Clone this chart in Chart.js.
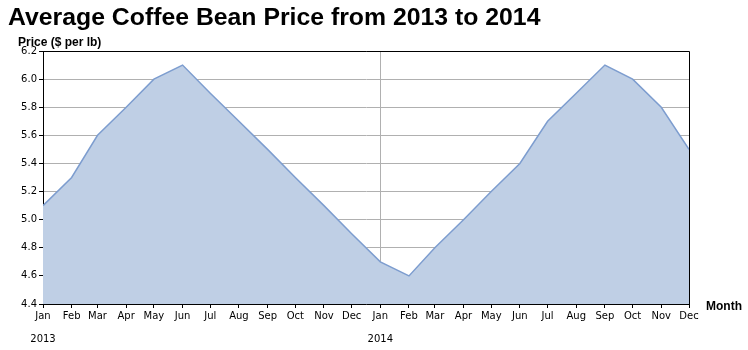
<!DOCTYPE html>
<html>
<head>
<meta charset="utf-8">
<script src="https://cdn.jsdelivr.net/npm/chart.js@4/dist/chart.umd.min.js"></script>
<style>
  html, body { margin: 0; padding: 0; background: #fff; }
  #wrap { width: 748px; height: 350px; position: relative; }
</style>
</head>
<body>
<div id="wrap"><canvas id="c" width="748" height="350"></canvas></div>
<script>
// ---- data ----
const dates = [
  '2013-01-01','2013-02-01','2013-03-01','2013-04-01','2013-05-01','2013-06-01',
  '2013-07-01','2013-08-01','2013-09-01','2013-10-01','2013-11-01','2013-12-01',
  '2014-01-01','2014-02-01','2014-03-01','2014-04-01','2014-05-01','2014-06-01',
  '2014-07-01','2014-08-01','2014-09-01','2014-10-01','2014-11-01','2014-12-01'
];
const prices = [
  5.1, 5.3, 5.6, 5.8, 6.0, 6.1, 5.9, 5.7, 5.5, 5.3, 5.1, 4.9,
  4.7, 4.6, 4.8, 5.0, 5.2, 5.4, 5.7, 5.9, 6.1, 6.0, 5.8, 5.5
];
const monthLabels = ['Jan','Feb','Mar','Apr','May','Jun','Jul','Aug','Sep','Oct','Nov','Dec'];
const yearLabels = ['2013', '2014'];
const yTicks = [4.4, 4.6, 4.8, 5.0, 5.2, 5.4, 5.6, 5.8, 6.0, 6.2];
const titleText = 'Average Coffee Bean Price from 2013 to 2014';
const yTitle = 'Price ($ per lb)';
const xTitle = 'Month';

// ---- helpers ----
const DAY = 86400000;
const base = Date.UTC(2013, 0, 1);
function dayNum(s) {
  const p = s.split('-').map(Number);
  return (Date.UTC(p[0], p[1] - 1, p[2]) - base) / DAY;
}
const xs = dates.map(dayNum);
const points = xs.map((x, i) => ({ x: x, y: prices[i] }));
const yearStarts = xs.filter((x, i) => i % 12 === 0);

const PLOT = { left: 43, top: 51, right: 689, bottom: 304 };

const decor = {
  id: 'decor',
  afterDraw(chart) {
    const ctx = chart.ctx;
    const a = chart.chartArea;
    ctx.save();
    // frame top and right
    ctx.strokeStyle = '#000';
    ctx.lineWidth = 1;
    ctx.beginPath();
    ctx.moveTo(a.left, a.top + 0.5);
    ctx.lineTo(a.right + 0.5, a.top + 0.5);
    ctx.lineTo(a.right + 0.5, a.bottom);
    ctx.stroke();
    // title
    ctx.fillStyle = '#000';
    ctx.textBaseline = 'alphabetic';
    ctx.textAlign = 'left';
    ctx.font = 'bold 24.8px "Liberation Sans", Arial, sans-serif';
    ctx.fillText(titleText, 8, 25);
    // y axis title
    ctx.font = 'bold 12px "Liberation Sans", Arial, sans-serif';
    ctx.fillText(yTitle, 18, 46);
    // x axis title
    ctx.fillText(xTitle, 706, 310);
    // year labels
    ctx.font = '10px "DejaVu Sans", sans-serif';
    ctx.textAlign = 'center';
    ctx.textBaseline = 'middle';
    const xs = chart.scales.x;
    yearStarts.forEach((v, i) => {
      ctx.fillText(yearLabels[i], xs.getPixelForValue(v), 339);
    });
    ctx.restore();
  }
};

new Chart(document.getElementById('c'), {
  type: 'line',
  data: {
    datasets: [{
      data: points,
      borderColor: '#7d9dcf',
      backgroundColor: '#bfcfe5',
      borderWidth: 1.5,
      fill: 'origin',
      pointRadius: 0,
      tension: 0
    }]
  },
  options: {
    responsive: false,
    animation: false,
    devicePixelRatio: 1,
    layout: { padding: { left: 0, top: PLOT.top, right: 748 - PLOT.right, bottom: 0 } },
    plugins: { legend: { display: false }, tooltip: { enabled: false }, title: { display: false } },
    scales: {
      x: {
        type: 'linear',
        min: xs[0],
        max: xs[xs.length - 1],
        afterBuildTicks(scale) { scale.ticks = xs.map(v => ({ value: v })); },
        afterFit(scale) { scale.height = 350 - PLOT.bottom; },
        ticks: {
          autoSkip: false,
          maxRotation: 0,
          padding: 2,
          color: '#000',
          font: { family: '"DejaVu Sans", sans-serif', size: 10 },
          callback(value, index) { return monthLabels[index % 12]; }
        },
        grid: {
          drawOnChartArea: true,
          color(ctx) { return (ctx.tick && ctx.tick.value === yearStarts[1]) ? '#b0b0b0' : 'rgba(0,0,0,0)'; },
          tickColor: '#000',
          tickLength: 4,
          lineWidth: 1
        },
        border: { display: true, color: '#000', width: 1 }
      },
      y: {
        type: 'linear',
        min: yTicks[0],
        max: yTicks[yTicks.length - 1],
        afterBuildTicks(scale) { scale.ticks = yTicks.map(v => ({ value: v })); },
        afterFit(scale) { scale.width = PLOT.left; },
        ticks: {
          padding: 2,
          color: '#000',
          font: { family: '"DejaVu Sans", sans-serif', size: 10 },
          callback(value) { return Number(value).toFixed(1); }
        },
        grid: {
          color: '#b0b0b0',
          tickColor: '#000',
          tickLength: 4,
          lineWidth: 1
        },
        border: { display: true, color: '#000', width: 1 }
      }
    }
  },
  plugins: [decor]
});
</script>
</body>
</html>
